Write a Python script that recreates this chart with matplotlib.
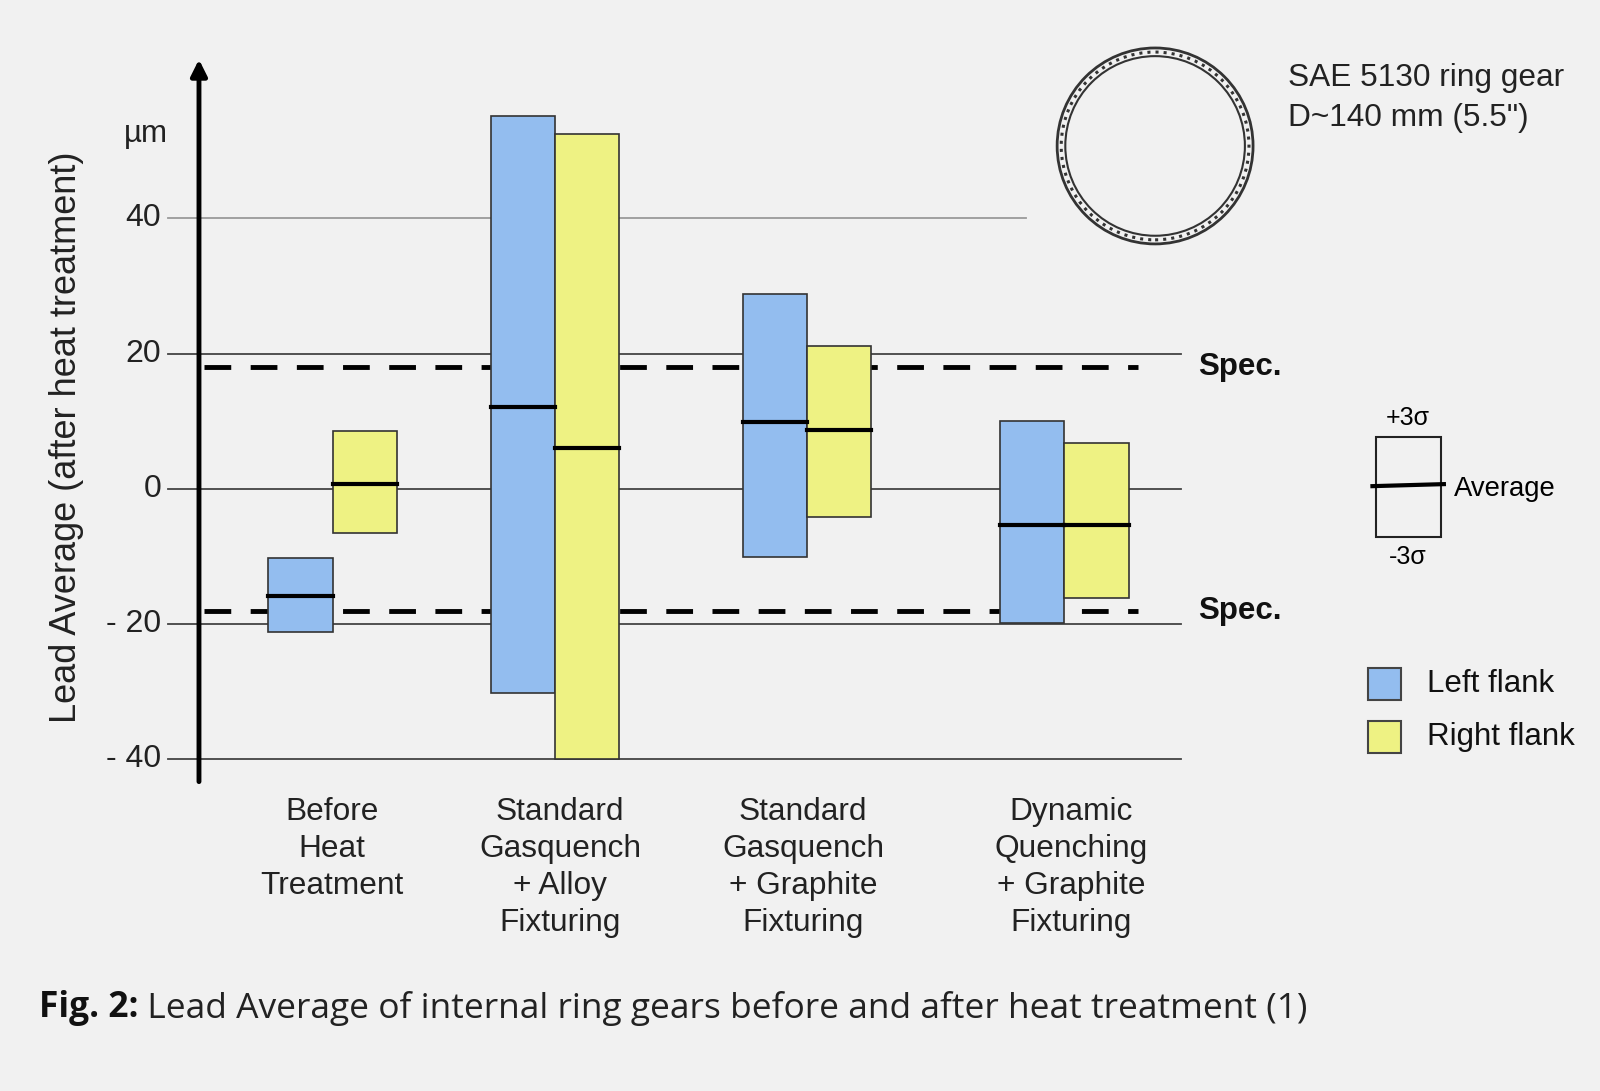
import matplotlib.pyplot as plt
from matplotlib.patches import Rectangle, Ellipse

# Datos (um)
categorias = ["Before\nHeat\nTreatment",
              "Standard\nGasquench\n+ Alloy\nFixturing",
              "Standard\nGasquench\n+ Graphite\nFixturing",
              "Dynamic\nQuenching\n+ Graphite\nFixturing"]
izq_sup = [-10.3, 55.1, 28.8, 10.1]
izq_inf = [-21.2, -30.2, -10.1, -19.9]
izq_prom = [-15.8, 12.1, 9.9, -5.4]
der_sup = [8.5, 52.5, 21.2, 6.8]
der_inf = [-6.5, -40.0, -4.1, -16.2]
der_prom = [0.7, 6.0, 8.7, -5.4]
spec = 18
ticks = [40, 20, 0, -20, -40]
tick_labels = ["40", "20", "0", "- 20", "- 40"]

# Layout (eje x en pixeles de la imagen, eje y en um)
centros = [326, 544, 791, 1043]
centros_txt = [325, 549, 787, 1050]
ancho = 63
azul = "#93BDEF"
amarillo = "#EEF283"
fondo = "#F1F1F1"

plt.rcParams['font.family'] = ['Liberation Sans', 'DejaVu Sans']

fig = plt.figure(figsize=(16, 10.91), dpi=100, facecolor=fondo)
ax = fig.add_axes([0, 0, 1, 1])
ax.set_facecolor(fondo)
ax.set_xlim(0, 1568)
ax.set_ylim((479 - 1069) / 6.625, 479 / 6.625)
ax.axis("off")
k = 6.625

# lineas de la grilla
for t in ticks:
    if t == 40:
        ax.plot([165, 1005], [t, t], color="#9a9a9a", lw=1.3, zorder=1)
    else:
        ax.plot([165, 1157], [t, t], color="#444444", lw=1.3, zorder=1)
for t, lab in zip(ticks, tick_labels):
    ax.text(158, t, lab, ha="right", va="center", fontsize=23, color="#222222")
ax.text(143, 52.5, "µm", ha="center", va="center", fontsize=22.5, color="#222222")

# lineas de especificacion
for s in [spec, -spec]:
    ax.plot([200, 1115], [s, s], color="black", lw=3.5, dashes=(5.5, 4), zorder=2)
    ax.text(1174, s, "Spec.", ha="left", va="center", fontsize=22.5,
            fontweight="bold", color="#111111")

# eje y con flecha
ax.annotate("", xy=(195, 63.5), xytext=(195, -43.3),
            arrowprops=dict(arrowstyle="-|>", lw=3.5, color="black",
                            mutation_scale=24, shrinkA=0, shrinkB=0), zorder=5)
ax.text(65, 7.6, "Lead Average (after heat treatment)", rotation=90,
        ha="center", va="center", fontsize=26, color="#222222")

# barras
for xc, s, i, p in zip(centros, izq_sup, izq_inf, izq_prom):
    ax.bar(xc - ancho / 2, s - i, bottom=i, width=ancho, color=azul,
           edgecolor="#333333", lw=1.2, zorder=3)
    ax.plot([xc - ancho, xc], [p, p], color="black", lw=3, zorder=4)
for xc, s, i, p in zip(centros, der_sup, der_inf, der_prom):
    ax.bar(xc + ancho / 2, s - i, bottom=i, width=ancho, color=amarillo,
           edgecolor="#333333", lw=1.2, zorder=3)
    ax.plot([xc, xc + ancho], [p, p], color="black", lw=3, zorder=4)

for xt, cat in zip(centros_txt, categorias):
    ax.text(xt, (479 - 781) / k, cat, ha="center", va="top", fontsize=22.8,
            color="#222222", linespacing=1.3)

# dibujo del engranaje
for r, lw, ls in [(96, 2.0, "-"), (92, 2.2, ":"), (88, 1.5, "-")]:
    ax.add_patch(Ellipse((1132, (479 - 143) / k), 2 * r, 2 * r / k, fill=False,
                         lw=lw, ls=ls, edgecolor="#333333", zorder=3))
ax.text(1262, (479 - 62) / k, "SAE 5130 ring gear\nD~140 mm (5.5\")", ha="left",
        va="top", fontsize=22.8, color="#222222", linespacing=1.42)

# leyenda de la caja
ax.add_patch(Rectangle((1348, -7.1), 64, 14.8, fill=False, lw=1.5,
                       edgecolor="#222222", zorder=3))
ax.plot([1345, 1415], [0.4, 0.7], color="black", lw=3, zorder=4)
ax.text(1380, (479 - 410) / k, "+3σ", ha="center", va="center", fontsize=18)
ax.text(1380, (479 - 546) / k, "-3σ", ha="center", va="center", fontsize=18)
ax.text(1425, 0, "Average", ha="left", va="center", fontsize=19.8)

# leyenda de colores
for y_c, col, lab in [((479 - 670) / k, azul, "Left flank"),
                      ((479 - 722) / k, amarillo, "Right flank")]:
    ax.add_patch(Rectangle((1341, y_c - 2.4), 32, 4.8, facecolor=col,
                           edgecolor="#444444", lw=1.5, zorder=3))
    ax.text(1398, y_c, lab, ha="left", va="center", fontsize=22.5, color="#111111")

# pie de figura
t1 = ax.text(38, (479 - 988) / k, "Fig. 2:", ha="left", va="center", fontsize=25.5,
             fontweight="bold", family="Open Sans", color="#111111")
ax.annotate(" Lead Average of internal ring gears before and after heat treatment (1)",
            xy=(1, 0), xycoords=t1, va="bottom", ha="left", fontsize=25.5,
            family="Open Sans", color="#222222")

fig.savefig("out.png", dpi=100, facecolor=fondo)
